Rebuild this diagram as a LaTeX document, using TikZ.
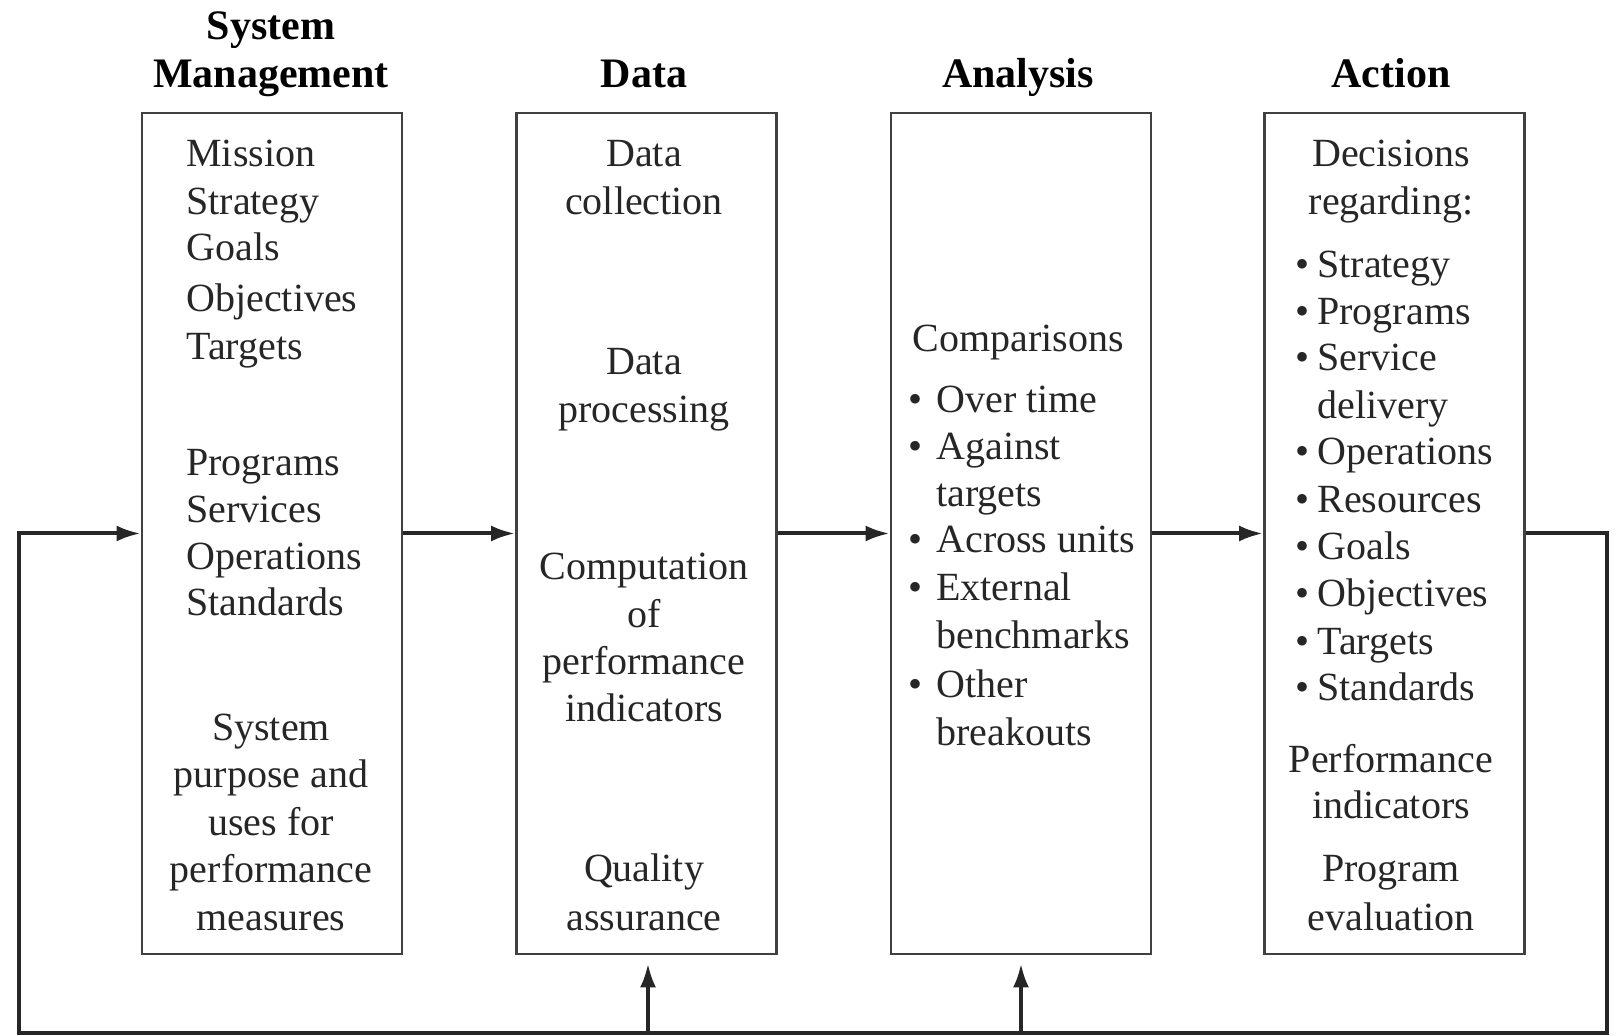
\documentclass[tikz,border=0pt]{standalone}
\usepackage{fontspec}
\setmainfont{Liberation Serif}
\usetikzlibrary{arrows.meta,positioning}

\tikzset{
  block/.style={draw=black!75, line width=1.4pt, minimum width=130pt, minimum height=420.5pt, inner sep=0pt},
  head/.style={font=\fontsize{21}{25}\selectfont\bfseries, inner sep=0pt, anchor=base},
  item/.style={font=\fontsize{20}{24}\selectfont, inner sep=0pt, text=black!85},
  flow/.style={draw=black!85, line width=2pt, line join=miter, -{Latex[length=12pt,width=8pt]}},
}

\begin{document}
\begin{tikzpicture}[x=0.5pt,y=-0.5pt]
  \useasboundingbox (0,0) rectangle (1623,1036);
  % the four stages
  \node[block] (sysm) at (272,533.5) {};
  \node[block] (data) at (646.5,533.5) {};
  \node[block] (anal) at (1021,533.5) {};
  \node[block] (actn) at (1394.5,533.5) {};
  % headings
  \node[head] (hsys) at (271,40) {System};
  \node[head] (hman) at (271,88) {Management};
  \node[head] (hdat) at (644,88) {Data};
  \node[head] (hana) at (1018,88) {Analysis};
  \node[head] (hact) at (1391,88) {Action};
  % system management
  \foreach \t/\y [count=\i] in {Mission/167, Strategy/215, Goals/261, Objectives/312, Targets/360,
      Programs/476, Services/523, Operations/570, Standards/616}
    \node[item, anchor=base west] (sm\i) at (186,\y) {\t};
  \foreach \t/\y [count=\i] in {System/741, purpose and/788, uses for/836, performance/883, measures/930}
    \node[item, anchor=base] (su\i) at (271,\y) {\t};
  % data
  \foreach \t/\y [count=\i] in {Data/167, collection/215, Data/375, processing/423, Computation/580,
      of/628, performance/675, indicators/722, Quality/882, assurance/930}
    \node[item, anchor=base] (dt\i) at (644,\y) {\t};
  % analysis
  \node[item, anchor=base] (cmp) at (1018,352) {Comparisons};
  \foreach \t/\y/\b [count=\i] in {Over time/413/1, Against/460/1, targets/507/0, Across units/553/1,
      External/601/1, benchmarks/649/0, Other/698/1, breakouts/746/0}
    \node[item, anchor=base west] (an\i) at (936,\y) {\ifnum\b=1 \llap{\textbullet\hspace{7pt}}\fi\t};
  % action
  \node[item, anchor=base] (dec) at (1391,167) {Decisions};
  \node[item, anchor=base] (reg) at (1391,215) {regarding:};
  \foreach \t/\y/\b [count=\i] in {Strategy/278/1, Programs/325/1, Service/371/1, delivery/419/0,
      Operations/465/1, Resources/513/1, Goals/560/1, Objectives/607/1, Targets/655/1, Standards/701/1}
    \node[item, anchor=base west] (ac\i) at (1317,\y) {\ifnum\b=1 \llap{\textbullet\hspace{4pt}}\fi\t};
  \foreach \t/\y [count=\i] in {Performance/773, indicators/819, Program/882, evaluation/930}
    \node[item, anchor=base] (pe\i) at (1391,\y) {\t};
  % flow between stages
  \draw[flow] (sysm.east) -- (data.west);
  \draw[flow] (data.east) -- (anal.west);
  \draw[flow] (anal.east) -- (actn.west);
  % feedback loop
  \coordinate (fbR) at (1607,1033);
  \coordinate (fbL) at (19,1033);
  \draw[flow] (actn.east) -| (fbR) -- (fbL) |- (sysm.west);
  \coordinate (in2) at (648,1033);
  \coordinate (in3) at (1021,1033);
  \draw[flow, shorten >=4pt] (in2) -- (in2 |- data.south);
  \draw[flow, shorten >=4pt] (in3) -- (in3 |- anal.south);
\end{tikzpicture}
\end{document}
